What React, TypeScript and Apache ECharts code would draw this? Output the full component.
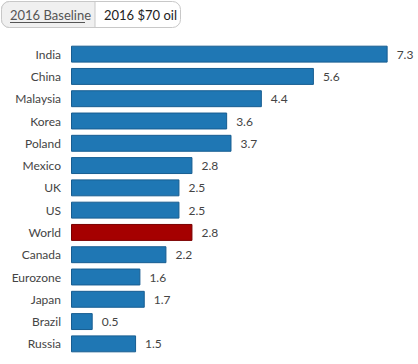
import React, { useEffect, useRef } from "react";
import * as echarts from "echarts";

const categories = ["India", "China", "Malaysia", "Korea", "Poland", "Mexico", "UK", "US", "World", "Canada", "Eurozone", "Japan", "Brazil", "Russia"];
const values = [7.3, 5.6, 4.4, 3.6, 3.7, 2.8, 2.5, 2.5, 2.8, 2.2, 1.6, 1.7, 0.5, 1.5];
const highlight = "World";
const buttonLabels = ["2016 Baseline", "2016 $70 oil"];

const FONT = "Lato, 'Open Sans', sans-serif";

export default function App() {
  const ref = useRef<HTMLDivElement>(null);
  useEffect(() => {
    if (!ref.current) return;
    const chart = echarts.init(ref.current, null, { renderer: "svg" });
    chart.setOption({
      animation: false,
      grid: { left: 71, right: 0, top: 43, bottom: 9, containLabel: false },
      xAxis: {
        type: "value",
        min: 0,
        max: 8,
        show: false,
      },
      yAxis: {
        type: "category",
        data: categories,
        inverse: true,
        axisLine: { show: false },
        axisTick: { show: false },
        axisLabel: { color: "#444", fontSize: 12, fontFamily: FONT, margin: 10 },
      },
      series: [
        {
          type: "bar",
          barCategoryGap: "24%",
          data: values.map((v, i) => {
            const isH = categories[i] === highlight;
            return {
              value: v,
              itemStyle: {
                color: isH ? "#a50000" : "#1f77b4",
                borderColor: isH ? "#7a0000" : "#175d91",
                borderWidth: 1,
              },
            };
          }),
          label: {
            show: true,
            position: "right",
            distance: 9,
            color: "#444",
            fontSize: 12,
            fontFamily: FONT,
            formatter: (p: any) => p.value.toFixed(1),
          },
        },
      ],
      graphic: [
        {
          type: "rect",
          shape: { x: 1.5, y: 1.5, width: 179, height: 26, r: 8 },
          style: { fill: "#ffffff", stroke: "#c8c8c8", lineWidth: 1 },
        },
        {
          type: "rect",
          shape: { x: 1.5, y: 1.5, width: 93.5, height: 26, r: [8, 0, 0, 8] },
          style: { fill: "#f0f0f0", stroke: "#c8c8c8", lineWidth: 1 },
        },
        {
          type: "text",
          x: 10,
          y: 8,
          style: { text: buttonLabels[0], fill: "#555", fontSize: 13, fontFamily: FONT },
        },
        {
          type: "line",
          shape: { x1: 10, y1: 22.5, x2: 85, y2: 22.5 },
          style: { stroke: "#555", lineWidth: 1 },
        },
        {
          type: "text",
          x: 104,
          y: 8,
          style: { text: buttonLabels[1], fill: "#222", fontSize: 13, fontFamily: FONT },
        },
      ],
    });
    return () => chart.dispose();
  }, []);
  return (
    <div
      ref={ref}
      style={{ position: "fixed", left: 0, top: 0, width: 418, height: 364, background: "#fff" }}
    />
  );
}
